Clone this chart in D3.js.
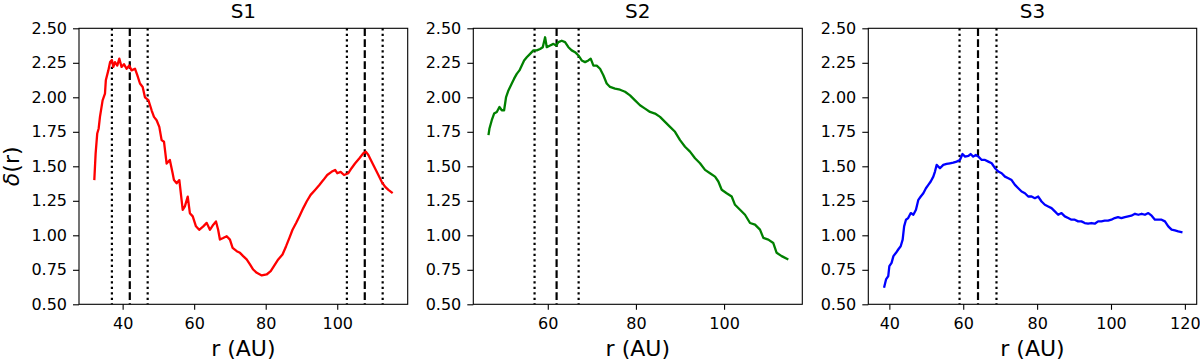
<!DOCTYPE html>
<html>
<head>
<meta charset="utf-8">
<script src="https://cdn.jsdelivr.net/npm/d3@7"></script>
<style>
  html, body { margin: 0; padding: 0; background: #fff; }
  svg { display: block; font-family: "DejaVu Sans", sans-serif; }
</style>
</head>
<body>
<svg id="chart" width="1200" height="361"></svg>
<script>
// ---- data ----
const panelTitles = ["S1", "S2", "S3"];
const seriesColors = ["#ff0000", "#008000", "#0000ff"];
const yTicks = [0.50, 0.75, 1.00, 1.25, 1.50, 1.75, 2.00, 2.25, 2.50];
const xTicksS1 = [40, 60, 80, 100];
const xTicksS2 = [60, 80, 100];
const xTicksS3 = [40, 60, 80, 100, 120];
const xDomainS1 = [27.8, 119.7];
const xDomainS2 = [43.1, 117.75];
const xDomainS3 = [34.3, 123.2];
const dashedS1 = [42, 107.7];
const dottedS1 = [37, 47, 102.7, 112.7];
const dashedS2 = [62];
const dottedS2 = [57, 67];
const dashedS3 = [64];
const dottedS3 = [59, 69];

const rS1 = [32.08,32.45,32.9,33.3,33.66,34.4,35.06,35.3,36.0,36.5,37.0,37.4,37.86,38.5,39.07,39.7,40.37,41.1,41.86,42.5,43.45,44.1,44.85,45.6,46.24,47.2,48.1,48.76,49.5,50.25,50.9,51.56,52.3,53.2,53.98,54.35,55.1,55.85,56.8,57.4,58.2,58.8,59.6,60.5,61.4,62.55,63.5,64.4,65.35,66.1,66.7,67.2,68.1,69.1,70.0,70.75,71.9,72.8,73.7,74.67,75.6,76.5,77.5,78.9,80.26,81.4,82.3,83.5,84.7,85.7,86.6,87.5,88.5,89.4,90.5,91.45,92.56,93.8,95.0,96.1,97.2,98.4,99.4,100.0,100.95,101.9,103.1,104.0,104.96,106.2,107.3,108.0,108.7,109.6,110.55,111.5,112.4,113.35,114.3,115.5];
const dS1 = [1.40,1.594,1.738,1.774,1.858,1.978,2.026,2.123,2.195,2.255,2.27,2.22,2.255,2.23,2.28,2.22,2.24,2.207,2.23,2.195,2.207,2.16,2.10,2.075,2.00,1.98,1.906,1.858,1.834,1.786,1.69,1.678,1.52,1.546,1.45,1.40,1.377,1.40,1.185,1.21,1.28,1.16,1.137,1.065,1.04,1.065,1.09,1.04,1.077,1.10,1.04,0.969,0.98,0.993,0.969,0.909,0.885,0.873,0.849,0.825,0.789,0.752,0.728,0.709,0.716,0.74,0.777,0.825,0.861,0.921,0.98,1.04,1.089,1.137,1.197,1.245,1.293,1.329,1.365,1.40,1.437,1.46,1.474,1.45,1.46,1.437,1.45,1.486,1.52,1.558,1.594,1.606,1.582,1.534,1.486,1.437,1.389,1.353,1.329,1.305];

const rS2 = [46.54,46.77,47.29,47.82,48.43,49.03,49.56,50.09,50.54,51.07,51.83,52.36,52.96,53.57,54.10,54.63,55.23,55.99,56.74,57.50,58.25,58.86,59.39,59.77,60.52,61.28,61.88,62.41,63.17,63.92,64.68,65.43,66.19,66.95,67.70,68.46,69.21,69.74,70.35,71.10,71.86,72.61,73.37,74.13,75.26,76.39,77.53,78.66,79.80,80.93,82.07,83.20,84.33,85.47,86.60,87.74,88.87,90.01,91.14,92.27,93.41,94.54,95.68,96.81,97.95,98.70,99.46,100.59,101.73,102.48,103.62,104.75,105.89,107.02,108.15,108.91,110.04,111.17,111.93,113.07,114.58];
const dS2 = [1.726,1.774,1.834,1.882,1.894,1.93,1.906,1.906,2.002,2.05,2.10,2.135,2.17,2.195,2.23,2.267,2.29,2.315,2.34,2.34,2.35,2.363,2.435,2.363,2.375,2.387,2.375,2.40,2.41,2.40,2.363,2.34,2.327,2.303,2.267,2.255,2.267,2.28,2.23,2.23,2.207,2.16,2.10,2.075,2.063,2.055,2.04,2.014,1.978,1.942,1.918,1.894,1.882,1.858,1.822,1.786,1.75,1.69,1.642,1.606,1.558,1.522,1.474,1.45,1.425,1.39,1.33,1.305,1.281,1.221,1.185,1.149,1.089,1.077,1.041,0.981,0.969,0.944,0.873,0.849,0.825];

const rS3 = [38.56,39.1,39.7,40.0,40.6,41.1,41.8,42.4,43.07,43.6,44.0,44.5,45.1,45.8,46.5,47.2,47.85,48.5,49.2,49.9,50.55,51.2,51.9,52.35,52.8,53.7,54.6,55.5,56.4,57.3,58.2,59.1,59.8,60.5,61.4,62.0,62.7,63.4,64.1,65.0,65.9,66.8,67.7,68.6,69.5,70.4,71.3,72.2,73.1,74.0,74.9,75.8,76.7,77.6,78.5,79.4,80.3,81.2,82.1,83.0,83.9,84.8,85.7,86.6,87.5,88.4,89.3,90.2,91.1,92.0,92.9,93.8,94.7,95.6,96.5,97.4,98.3,99.2,100.1,101.0,101.9,102.8,103.75,104.65,105.5,106.5,107.4,108.3,109.2,110.1,111.0,111.9,112.8,113.7,114.6,115.5,116.4,117.3,118.2,119.35];
const dS3 = [0.62,0.68,0.704,0.776,0.80,0.849,0.873,0.897,0.921,0.969,1.065,1.113,1.125,1.161,1.149,1.185,1.257,1.281,1.305,1.341,1.365,1.39,1.425,1.462,1.51,1.486,1.51,1.517,1.522,1.526,1.534,1.546,1.589,1.57,1.575,1.589,1.57,1.582,1.57,1.546,1.546,1.534,1.522,1.486,1.462,1.45,1.425,1.413,1.40,1.365,1.341,1.317,1.305,1.281,1.281,1.269,1.281,1.245,1.221,1.209,1.197,1.173,1.149,1.161,1.137,1.125,1.113,1.113,1.101,1.101,1.089,1.084,1.089,1.084,1.101,1.101,1.106,1.106,1.113,1.125,1.132,1.125,1.132,1.137,1.142,1.156,1.149,1.156,1.149,1.161,1.142,1.113,1.113,1.113,1.101,1.065,1.041,1.036,1.029,1.022];

// ---- layout ----
const panels = [
  { title: panelTitles[0], color: seriesColors[0], r: rS1, d: dS1, xDomain: xDomainS1, xTicks: xTicksS1, dashed: dashedS1, dotted: dottedS1, left: 79, right: 407.7 },
  { title: panelTitles[1], color: seriesColors[1], r: rS2, d: dS2, xDomain: xDomainS2, xTicks: xTicksS2, dashed: dashedS2, dotted: dottedS2, left: 473.3, right: 802.3 },
  { title: panelTitles[2], color: seriesColors[2], r: rS3, d: dS3, xDomain: xDomainS3, xTicks: xTicksS3, dashed: dashedS3, dotted: dottedS3, left: 868.3, right: 1196.7 }
];
const plotTop = 28.3, plotBottom = 304.3;
const svg = d3.select("#chart");

panels.forEach((p, i) => {
  const x = d3.scaleLinear().domain(p.xDomain).range([p.left, p.right]);
  const y = d3.scaleLinear().domain([0.5, 2.5]).range([plotBottom, plotTop]);
  const g = svg.append("g");

  // vertical reference lines
  p.dotted.forEach(v => {
    g.append("line").attr("x1", x(v)).attr("x2", x(v)).attr("y1", plotTop).attr("y2", plotBottom)
      .attr("stroke", "#000").attr("stroke-width", 2.2).attr("stroke-dasharray", "2.2,3.3");
  });
  p.dashed.forEach(v => {
    g.append("line").attr("x1", x(v)).attr("x2", x(v)).attr("y1", plotTop).attr("y2", plotBottom)
      .attr("stroke", "#000").attr("stroke-width", 2.2).attr("stroke-dasharray", "7.7,3.3");
  });

  // curve
  const pts = p.r.map((rv, k) => [rv, p.d[k]]);
  g.append("path").datum(pts)
    .attr("fill", "none").attr("stroke", p.color).attr("stroke-width", 2.3)
    .attr("stroke-linejoin", "round")
    .attr("d", d3.line().x(q => x(q[0])).y(q => y(q[1])));

  // axes
  const xAxis = g.append("g").attr("transform", `translate(0,${plotBottom})`)
    .call(d3.axisBottom(x).tickValues(p.xTicks).tickFormat(d3.format("d")).tickSize(5.5).tickPadding(8));
  const yAxis = g.append("g").attr("transform", `translate(${p.left},0)`)
    .call(d3.axisLeft(y).tickValues(yTicks).tickFormat(d3.format(".2f")).tickSize(6).tickPadding(6));
  [xAxis, yAxis].forEach(a => {
    a.select(".domain").remove();
    a.selectAll(".tick line").attr("stroke", "#000").attr("stroke-width", 1.1);
    a.selectAll(".tick text").attr("fill", "#000").style("font-size", "16px")
      .style("font-family", "'DejaVu Sans', sans-serif");
  });

  // frame
  g.append("rect").attr("x", p.left).attr("y", plotTop)
    .attr("width", p.right - p.left).attr("height", plotBottom - plotTop)
    .attr("fill", "none").attr("stroke", "#000").attr("stroke-width", 1.1);

  // title
  g.append("text").attr("x", (p.left + p.right) / 2).attr("y", 17.5)
    .attr("text-anchor", "middle").style("font-size", "20px").text(p.title);

  // x label
  g.append("text").attr("x", (p.left + p.right) / 2).attr("y", 355.5)
    .attr("text-anchor", "middle").style("font-size", "22px").text("r (AU)");
});

// y label
const yl = svg.append("text").attr("transform", `translate(18.5,${(plotTop + plotBottom) / 2}) rotate(-90)`)
  .attr("text-anchor", "middle").style("font-size", "22px");
yl.append("tspan").style("font-style", "italic").text("δ");
yl.append("tspan").text("(r)");
</script>
</body>
</html>
